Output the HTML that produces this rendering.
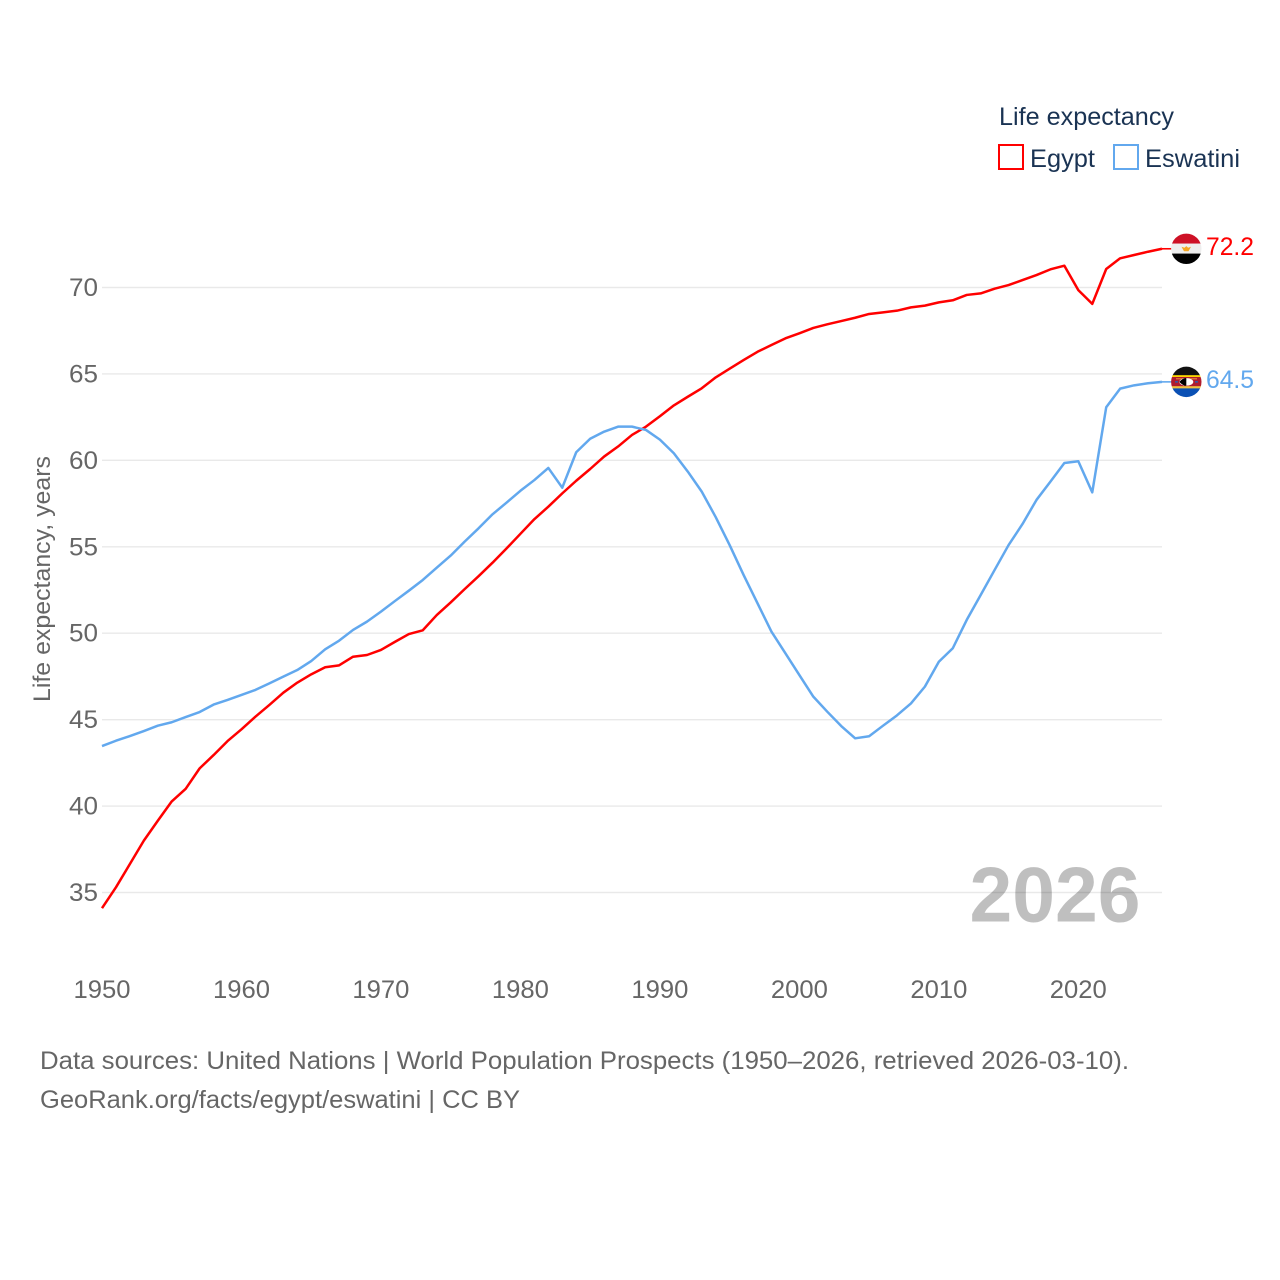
<!DOCTYPE html>
<html lang="en">
<head>
<meta charset="utf-8">
<title>Life expectancy: Egypt and Eswatini</title>
<style>
  html, body { margin: 0; padding: 0; background: #fff; }
  svg { display: block; }
  text { font-family: "Liberation Sans", sans-serif; }
</style>
</head>
<body>
<svg id="chart" xmlns="http://www.w3.org/2000/svg" width="1280" height="1280" viewBox="0 0 1280 1280">
  <defs>
    <clipPath id="clip-eg"><circle cx="1186.3" cy="248.5" r="15.2"></circle></clipPath>
    <clipPath id="clip-sz"><circle cx="1186.3" cy="381.7" r="15.2"></circle></clipPath>
  </defs>
  <rect x="0" y="0" width="1280" height="1280" fill="#fff"></rect>
  <g id="grid"></g>
  <g id="yticks"></g>
  <g id="xticks"></g>
  <text transform="translate(50,702) rotate(-90)" font-size="24" fill="#666" textLength="246" lengthAdjust="spacingAndGlyphs">Life expectancy, years</text>
  <text x="969.5" y="921.5" font-size="78" font-weight="bold" fill="#000" fill-opacity="0.25" textLength="171" lengthAdjust="spacingAndGlyphs">2026</text>
  <g id="series"></g>

  <g>
    <text x="999" y="125" font-size="25" fill="#1a3353" textLength="175" lengthAdjust="spacingAndGlyphs">Life expectancy</text>
    <rect x="999" y="145" width="24" height="24" fill="none" stroke="#ff0000" stroke-width="2"></rect>
    <text x="1030" y="167" font-size="25" fill="#1a3353" textLength="65" lengthAdjust="spacingAndGlyphs">Egypt</text>
    <rect x="1114" y="145" width="24" height="24" fill="none" stroke="#62a8ee" stroke-width="2"></rect>
    <text x="1145" y="167" font-size="25" fill="#1a3353" textLength="95" lengthAdjust="spacingAndGlyphs">Eswatini</text>
  </g>

  <g id="flag-eg-pos">
    <g clip-path="url(#clip-eg)">
      <rect x="1170" y="232" width="33" height="11.5" fill="#ce1126"></rect>
      <rect x="1170" y="243.3" width="33" height="10.2" fill="#eeeeee"></rect>
      <rect x="1170" y="253.3" width="33" height="11.5" fill="#000000"></rect>
      <polygon points="1181.5,246.5 1184.5,247.5 1186.3,245.8 1188.1,247.5 1191,246.5 1188.5,251 1184,251" fill="#f5a623"></polygon>
    </g>
  </g>
  <g id="flag-sz-pos">
    <g clip-path="url(#clip-sz)">
      <rect x="1170" y="366" width="33" height="9.5" fill="#111111"></rect>
      <rect x="1170" y="375" width="33" height="2" fill="#ffd900"></rect>
      <rect x="1170" y="376.8" width="33" height="9.8" fill="#b01c2e"></rect>
      <rect x="1170" y="386" width="33" height="2.4" fill="#f0c040"></rect>
      <rect x="1170" y="388.2" width="33" height="9.5" fill="#0a50b4"></rect>
      <rect x="1176" y="378" width="21" height="1.2" fill="#e8853a"></rect>
      <ellipse cx="1186.3" cy="381.7" rx="7" ry="3.8" fill="#fff"></ellipse>
      <path d="M1179.3 381.7 Q1183 377.6 1186.3 377.9 L1186.3 385.5 Q1183 385.8 1179.3 381.7Z" fill="#000"></path>
      <rect x="1175" y="381" width="3" height="1.4" fill="#2a5fb0"></rect>
      <rect x="1195" y="381" width="3" height="1.4" fill="#2a5fb0"></rect>
    </g>
  </g>
  <text id="label-eg" x="1206" y="254" font-size="25" fill="#ff0000" textLength="48" lengthAdjust="spacingAndGlyphs"></text>
  <text id="label-sz" x="1206" y="388" font-size="25" fill="#62a8ee" textLength="48" lengthAdjust="spacingAndGlyphs"></text>

  <text x="40" y="1069" font-size="25" fill="#666" textLength="1089" lengthAdjust="spacingAndGlyphs">Data sources: United Nations | World Population Prospects (1950–2026, retrieved 2026-03-10).</text>
  <text x="40" y="1108" font-size="25" fill="#666" textLength="480" lengthAdjust="spacingAndGlyphs">GeoRank.org/facts/egypt/eswatini | CC BY</text>
</svg>
<script>
const firstYear = 1950;
const lastYear = 2026;
const yTickValues = [35, 40, 45, 50, 55, 60, 65, 70];
const xTickValues = [1950, 1960, 1970, 1980, 1990, 2000, 2010, 2020];
const egyptValues = [
  34.09, 35.3, 36.65, 38.0, 39.15, 40.27, 41.0, 42.18, 42.95, 43.76,
  44.44, 45.17, 45.85, 46.56, 47.14, 47.62, 48.03, 48.14, 48.64, 48.74,
  49.03, 49.5, 49.95, 50.17, 51.05, 51.78, 52.55, 53.3, 54.08, 54.9,
  55.75, 56.6, 57.32, 58.09, 58.82, 59.5, 60.22, 60.8, 61.47, 61.95,
  62.55, 63.18, 63.68, 64.17, 64.8, 65.3, 65.8, 66.28, 66.67, 67.06,
  67.35, 67.66, 67.87, 68.06, 68.25, 68.47, 68.56, 68.66, 68.85, 68.95,
  69.14, 69.26, 69.57, 69.66, 69.93, 70.14, 70.43, 70.72, 71.05, 71.26,
  69.85, 69.05, 71.07, 71.69, 71.88, 72.07, 72.24
];
const eswatiniValues = [
  43.47, 43.78, 44.05, 44.34, 44.65, 44.85, 45.15, 45.44, 45.87, 46.14,
  46.43, 46.72, 47.1, 47.49, 47.87, 48.39, 49.07, 49.57, 50.19, 50.67,
  51.25, 51.86, 52.46, 53.08, 53.79, 54.49, 55.3, 56.07, 56.88, 57.55,
  58.24, 58.86, 59.56, 58.42, 60.47, 61.25, 61.66, 61.95, 61.95, 61.76,
  61.2, 60.41, 59.35, 58.19, 56.72, 55.1, 53.37, 51.73, 50.09, 48.84,
  47.58, 46.33, 45.46, 44.63, 43.92, 44.04, 44.65, 45.25, 45.94, 46.91,
  48.35, 49.13, 50.77, 52.21, 53.66, 55.1, 56.32, 57.71, 58.77, 59.85,
  59.95, 58.15, 63.07, 64.15, 64.34, 64.46, 64.54
];

const NS = 'http://www.w3.org/2000/svg';
const xLeft = 102, xRight = 1162;
const y70 = 287.5, y35 = 892.5;
function xScale(year) { return xLeft + (year - firstYear) * (xRight - xLeft) / (lastYear - firstYear); }
function yScale(v) { return y35 + (v - 35) * (y70 - y35) / 35; }

const gridGroup = document.getElementById('grid');
const yTickGroup = document.getElementById('yticks');
const xTickGroup = document.getElementById('xticks');
const seriesGroup = document.getElementById('series');

yTickValues.forEach(function (v) {
  const line = document.createElementNS(NS, 'line');
  
  
  line.setAttribute('x1', xLeft);
  line.setAttribute('x2', xRight);
  line.setAttribute('y1', yScale(v));
  line.setAttribute('y2', yScale(v));
  line.setAttribute('stroke', '#e9e9e9');
  line.setAttribute('stroke-width', '1.4');
  gridGroup.appendChild(line);

  const label = document.createElementNS(NS, 'text');
  
  
  label.setAttribute('x', 69);
  label.setAttribute('y', yScale(v) + 8.5);
  label.setAttribute('font-size', '25');
  label.setAttribute('fill', '#666');
  label.setAttribute('textLength', '29');
  label.setAttribute('lengthAdjust', 'spacingAndGlyphs');
  label.textContent = String(v);
  yTickGroup.appendChild(label);
});

xTickValues.forEach(function (year) {
  const label = document.createElementNS(NS, 'text');
  
  
  label.setAttribute('x', xScale(year) - 28.5);
  label.setAttribute('y', 998);
  label.setAttribute('font-size', '25');
  label.setAttribute('fill', '#666');
  label.setAttribute('textLength', '57');
  label.setAttribute('lengthAdjust', 'spacingAndGlyphs');
  label.textContent = String(year);
  xTickGroup.appendChild(label);
});

function drawSeries(values, color, lineName, connectorName, flagPosId, defaultFlagY, labelId) {
  const pts = values.map(function (v, i) {
    return xScale(firstYear + i).toFixed(2) + ',' + yScale(v).toFixed(2);
  }).join(' ');
  const poly = document.createElementNS(NS, 'polyline');
  
  
  poly.setAttribute('points', pts);
  poly.setAttribute('fill', 'none');
  poly.setAttribute('stroke', color);
  poly.setAttribute('stroke-width', '2.5');
  poly.setAttribute('stroke-linejoin', 'round');
  seriesGroup.appendChild(poly);

  const endValue = values[values.length - 1];
  const endY = yScale(endValue);
  const connector = document.createElementNS(NS, 'line');
  
  
  connector.setAttribute('x1', xRight);
  connector.setAttribute('x2', 1172);
  connector.setAttribute('y1', endY);
  connector.setAttribute('y2', endY);
  connector.setAttribute('stroke', color);
  connector.setAttribute('stroke-width', '1.6');
  seriesGroup.appendChild(connector);

  document.getElementById(flagPosId).setAttribute('transform', 'translate(0,' + (endY - defaultFlagY) + ')');

  const label = document.getElementById(labelId);
  label.setAttribute('y', endY + 6);
  label.textContent = endValue.toFixed(1);
}

drawSeries(egyptValues, '#ff0000', 'egypt-line', 'egypt-connector', 'flag-eg-pos', 248.5, 'label-eg');
drawSeries(eswatiniValues, '#62a8ee', 'eswatini-line', 'eswatini-connector', 'flag-sz-pos', 381.7, 'label-sz');
</script>
</body>
</html>
